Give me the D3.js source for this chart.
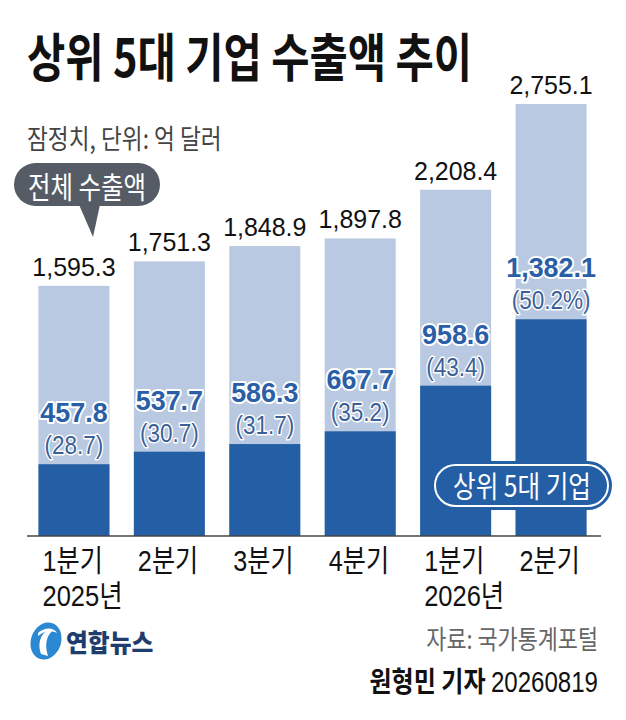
<!DOCTYPE html>
<html>
<head>
<meta charset="utf-8">
<script src="https://cdn.jsdelivr.net/npm/d3@7"></script>
<style>
  html, body { margin: 0; padding: 0; background: #fff; }
  svg { display: block; }
</style>
</head>
<body>
<svg id="chart" width="626" height="720"></svg>
<script>
const quarters = ["1분기", "2분기", "3분기", "4분기", "1분기", "2분기"];
const years = ["2025년", "", "", "", "2026년", ""];
const totals = [1595.3, 1751.3, 1848.9, 1897.8, 2208.4, 2755.1];
const top5 = [457.8, 537.7, 586.3, 667.7, 958.6, 1382.1];
const shares = [28.7, 30.7, 31.7, 35.2, 43.4, 50.2];

const KR = "'Noto Sans CJK KR', sans-serif";
const NUM = "'Liberation Sans', 'Noto Sans CJK KR', sans-serif";
const LIGHT = "#b9c9e1";
const DARK = "#245ea4";
const LABEL_BLUE = "#2a5ea6";
const SHARE_BLUE = "#3d5f96";

const svg = d3.select("#chart");
const fmt = d3.format(",.1f");

const x = d3.scaleBand()
  .domain(d3.range(totals.length))
  .range([27, 598])
  .paddingInner(0.256)
  .paddingOuter(0.12);

const y = d3.scaleLinear()
  .domain([0, 2755.1])
  .range([536, 104]);

// text with horizontal squeeze, the original face is a condensed one
function label(parent, px, py, str, opts = {}) {
  const sx = opts.sx || 1;
  const t = parent.append("text")
    .attr("transform", `translate(${px},${py}) scale(${sx},1)`)
    .attr("font-family", opts.family || KR)
    .attr("font-size", opts.size || 24)
    .attr("font-weight", opts.weight || 400)
    .attr("fill", opts.fill || "#111")
    .attr("text-anchor", opts.anchor || "start")
    .text(str);
  if (opts.halo) {
    t.attr("stroke", "#fff")
      .attr("stroke-width", opts.halo)
      .attr("stroke-linejoin", "round")
      .attr("paint-order", "stroke");
  }
  return t;
}

// title block
label(svg, 27, 77, "상위 5대 기업 수출액 추이", { size: 52, weight: 700, sx: 0.8, fill: "#111" });
label(svg, 27, 149, "잠정치, 단위: 억 달러", { size: 27, sx: 0.84, fill: "#444" });

// bars
const bars = svg.append("g");

bars.selectAll("rect.total")
  .data(totals)
  .join("rect")
  .attr("class", "total")
  .attr("x", (d, i) => x(i))
  .attr("y", (d) => y(d))
  .attr("width", x.bandwidth())
  .attr("height", (d) => y(0) - y(d))
  .attr("fill", LIGHT);

bars.selectAll("rect.top5")
  .data(top5)
  .join("rect")
  .attr("class", "top5")
  .attr("x", (d, i) => x(i))
  .attr("y", (d) => y(d))
  .attr("width", x.bandwidth())
  .attr("height", (d) => y(0) - y(d))
  .attr("fill", DARK);

// baseline
svg.append("line")
  .attr("x1", 27)
  .attr("x2", 601)
  .attr("y1", y(0))
  .attr("y2", y(0))
  .attr("stroke", "#444")
  .attr("stroke-width", 1.5);

const labels = svg.append("g");

totals.forEach((d, i) => {
  const cx = x(i) + x.bandwidth() / 2;
  label(labels, cx, y(d) - 10, fmt(d), { family: NUM, size: 26, sx: 0.96, anchor: "middle", fill: "#111" });
});

top5.forEach((d, i) => {
  const cx = x(i) + x.bandwidth() / 2;
  label(labels, cx, y(d) - 42, fmt(d), {
    family: NUM, size: 28, sx: 0.96, weight: 700, anchor: "middle", fill: LABEL_BLUE, halo: 4,
  });
  const pct = i === shares.length - 1 ? `(${shares[i]}%)` : `(${shares[i]})`;
  label(labels, cx, y(d) - 10, pct, {
    family: NUM, size: 26.5, sx: 0.85, anchor: "middle", fill: SHARE_BLUE, halo: 3,
  });
});

// category labels
quarters.forEach((q, i) => {
  label(labels, x(i) + 4, 571, q, { family: NUM, size: 30, sx: 0.84, fill: "#111" });
  if (years[i]) {
    label(labels, x(i) + 4, 606, years[i], { family: NUM, size: 30, sx: 0.85, fill: "#111" });
  }
});

// callout: total exports
const callout = svg.append("g");
callout.append("path")
  .attr("d", "M77,200 L101,200 L93,237 Z")
  .attr("fill", "#555c66");
callout.append("rect")
  .attr("x", 14)
  .attr("y", 163)
  .attr("width", 146)
  .attr("height", 43)
  .attr("rx", 21.5)
  .attr("fill", "#555c66");
label(callout, 87, 198, "전체 수출액", { size: 29.5, sx: 0.83, fill: "#fff", anchor: "middle" });

// pill: top five companies
const pill = svg.append("g");
pill.append("rect")
  .attr("x", 431)
  .attr("y", 461)
  .attr("width", 181)
  .attr("height", 49)
  .attr("rx", 24.5)
  .attr("fill", DARK);
pill.append("rect")
  .attr("x", 435)
  .attr("y", 465)
  .attr("width", 173)
  .attr("height", 41)
  .attr("rx", 20.5)
  .attr("fill", "none")
  .attr("stroke", "#fff")
  .attr("stroke-width", 2);
label(pill, 522, 497, "상위 5대 기업", { size: 30, sx: 0.82, fill: "#fff", anchor: "middle" });

// footer
const logo = svg.append("g");
logo.append("ellipse")
  .attr("cx", 46)
  .attr("cy", 641)
  .attr("rx", 15)
  .attr("ry", 19)
  .attr("transform", "rotate(20,46,641)")
  .attr("fill", "#2b88d2");
logo.append("path")
  .attr("d", "M41,654 C36,640 44,628 54,630 C47,634 44,644 48,656 Z")
  .attr("fill", "#fff");
logo.append("path")
  .attr("d", "M38,633 C44,627 54,627 57,633 C51,630 44,631 38,636 Z")
  .attr("fill", "#fff");
label(logo, 66, 652, "연합뉴스", { size: 25, weight: 900, sx: 0.95, fill: "#1e3c6d" });

label(svg, 598, 649, "자료: 국가통계포털", { size: 26, sx: 0.84, fill: "#666", anchor: "end" });

const credit = svg.append("text")
  .attr("transform", "translate(598,692) scale(0.83,1)")
  .attr("text-anchor", "end")
  .attr("font-family", NUM)
  .attr("font-size", 29)
  .attr("fill", "#111");
credit.append("tspan").attr("font-family", KR).attr("font-weight", 700).text("원형민 기자 ");
credit.append("tspan").text("20260819");
</script>
</body>
</html>
